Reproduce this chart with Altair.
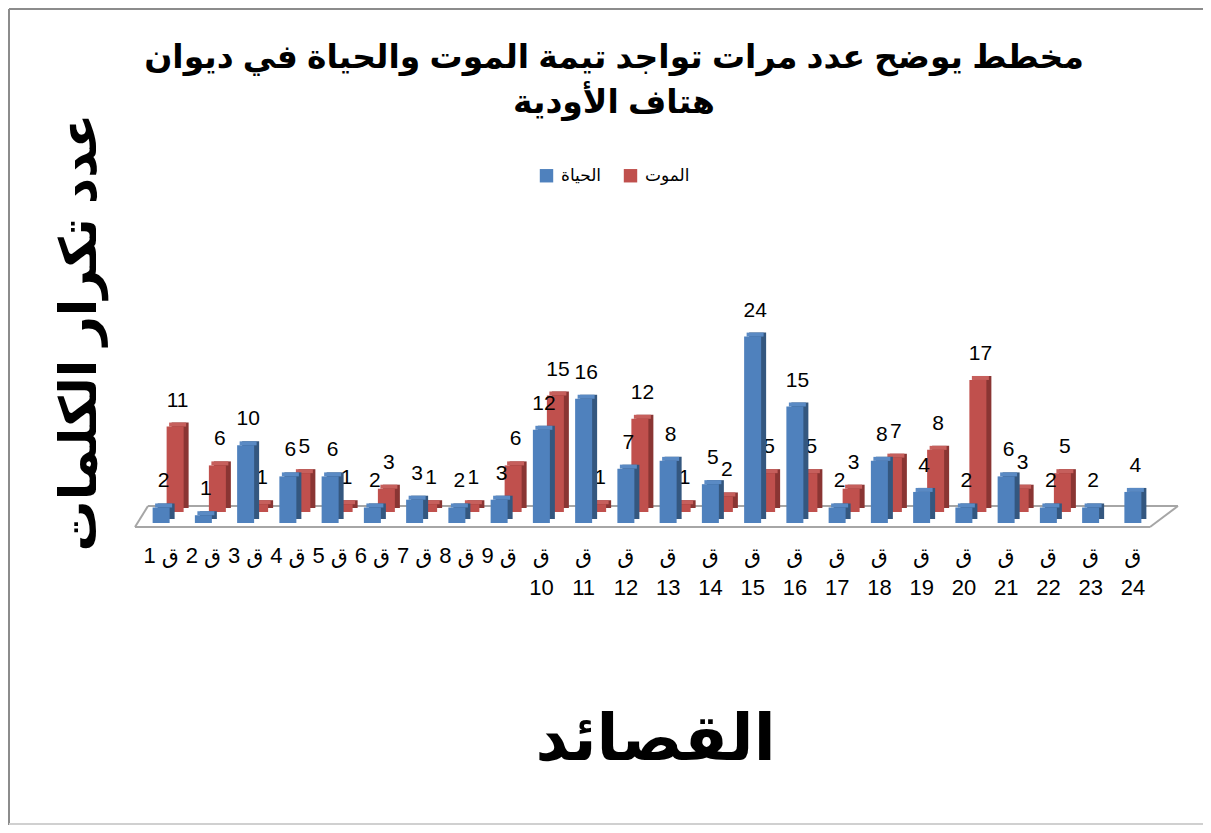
import altair as alt
import pandas as pd

# ---------------- data ----------------
poems = ["ق 1", "ق 2", "ق 3", "ق 4", "ق 5", "ق 6", "ق 7", "ق 8", "ق 9", "ق 10",
         "ق 11", "ق 12", "ق 13", "ق 14", "ق 15", "ق 16", "ق 17", "ق 18", "ق 19",
         "ق 20", "ق 21", "ق 22", "ق 23", "ق 24"]
life = [2, 1, 10, 6, 6, 2, 3, 2, 3, 12, 16, 7, 8, 5, 24, 15, 2, 8, 4, 2, 6, 2, 2, 4]
death = [11, 6, 1, 5, 1, 3, 1, 1, 6, 15, 1, 12, 1, 2, 5, 5, 3, 7, 8, 17, 3, 5, 0, 0]
series_names = ["الحياة", "الموت"]
title_lines = ["مخطط يوضح عدد مرات تواجد تيمة الموت والحياة في ديوان", "هتاف الأودية"]
x_title = "القصائد"
y_title = "عدد تكرار الكلمات"

rows = []
for p, l, d in zip(poems, life, death):
    rows.append({"poem": p, "series": series_names[0], "value": l})
    rows.append({"poem": p, "series": series_names[1], "value": d})
df = pd.DataFrame(rows)

# ---------------- layout ----------------
W, H, YMAX = 1014, 233, 30
PAD_L, PAD_T = 132, 282
PAD_R = 1195 - PAD_L - W
PAD_B = 817 - PAD_T - H
BW = 17          # bar face width
DX, DY = 5, 4    # 3D depth of a bar
FONT = "Liberation Sans, DejaVu Sans"

BLUE, BLUE_SIDE, BLUE_TOP = "#4F81BD", "#34577f", "#5a8ac4"
RED, RED_SIDE, RED_TOP = "#C0504D", "#8a3533", "#c65f5c"

yscale = alt.Scale(domain=[0, YMAX], nice=False, zero=True)
xscale = alt.Scale(paddingInner=0, paddingOuter=0)

x_axis = alt.Axis(
    title=x_title, labelAngle=0, domain=False, ticks=False, grid=False,
    labelPadding=22, labelFontSize=22, labelFont=FONT, labelColor="black",
    labelLineHeight=32, labelBaseline="top", labelOverlap=False, labelLimit=200,
    labelExpr="length(datum.label) > 3 ? split(datum.label, ' ') : datum.label",
    titleFont=FONT, titleFontSize=64, titleFontWeight="bold", titleColor="black",
    titleX=515, titleY=217, titleAlign="center", titleBaseline="middle",
)
y_axis = alt.Axis(
    title=y_title, labels=False, ticks=False, domain=False, grid=False,
    titleFont=FONT, titleFontSize=51, titleFontWeight="bold", titleColor="black",
    titleAngle=270, titleX=-60, titleY=42, titleAlign="center", titleBaseline="middle",
)


def xenc():
    return alt.X("poem:N", sort=poems, scale=xscale, axis=x_axis)


def yenc():
    return alt.Y("value:Q", scale=yscale, axis=y_axis)


def bar3d(series, ox, oy, front, side, top):
    base = alt.Chart(df).transform_filter(
        f"datum.series == '{series}' && datum.value > 0")
    depth = base.mark_bar(width=BW, xOffset=ox + DX, yOffset=oy - DY,
                          y2Offset=oy - DY, color=side).encode(
        x=xenc(), y=yenc(), y2=alt.datum(0))
    topf = base.mark_bar(width=BW, xOffset=ox + DX / 2, yOffset=oy - DY,
                         y2Offset=oy, color=top).encode(
        x=xenc(), y=yenc(), y2="value:Q")
    face = base.mark_bar(width=BW, xOffset=ox, yOffset=oy, y2Offset=oy).encode(
        x=xenc(), y=yenc(), y2=alt.datum(0),
        color=alt.Color(
            "series:N",
            scale=alt.Scale(domain=series_names, range=[BLUE, RED]),
            legend=alt.Legend(
                orient="none", legendX=398, legendY=-123, direction="horizontal",
                title=None, symbolType="square", symbolSize=180,
                symbolStrokeWidth=0, labelFontSize=17, labelFont=FONT,
                labelColor="black", columnPadding=20, labelOffset=6,
            ),
        ),
    )
    text = base.mark_text(fontSize=21, font=FONT, color="black", baseline="middle",
                          dx=ox + DX / 2, dy=oy - 26).encode(
        x=xenc(), y=yenc(), text="value:Q")
    return [depth, topf, face, text]


# ---------------- floor & frame (decoration) ----------------
one = alt.Data(values=[{"k": 1}])
FLOOR = "#a6a6a6"
FRAME = "#8c8c8c"


def rule(x1, x2, y1, y2, color, sw):
    return alt.Chart(one).mark_rule(color=color, strokeWidth=sw).encode(
        x=alt.value(x1), x2=alt.value(x2), y=alt.value(y1), y2=alt.value(y2))


floor = [
    rule(-5, W - 4, H + 4, H + 4, FLOOR, 2),
    rule(8, W + 24, H - 17, H - 17, FLOOR, 2),
    rule(-5, 8, H + 4, H - 17, FLOOR, 2),
    rule(W - 4, W + 24, H + 4, H - 17, FLOOR, 2),
]
frame = [
    rule(-PAD_L + 1, W + PAD_R + 10, -PAD_T + 1, -PAD_T + 1, FRAME, 2),
    rule(-PAD_L + 1, -PAD_L + 1, -PAD_T + 1, H + PAD_B, FRAME, 2),
    rule(-PAD_L + 1, W + PAD_R + 10, H + PAD_B - 1, H + PAD_B - 1, "#d0d0d0", 2),
]

layers = frame + floor
layers += bar3d(series_names[1], 14, -11, RED, RED_SIDE, RED_TOP)
layers += bar3d(series_names[0], 0, 0, BLUE, BLUE_SIDE, BLUE_TOP)

chart = alt.layer(*layers).properties(
    width=W, height=H,
    autosize=alt.AutoSizeParams(type="none"),
    padding={"left": PAD_L, "top": PAD_T, "right": PAD_R, "bottom": PAD_B},
    title=alt.TitleParams(
        text=title_lines, font=FONT, fontSize=33, fontWeight="bold", color="black",
        anchor="middle", frame="group", dx=-33, offset=-145, baseline="bottom",
        lineHeight=45,
    ),
).configure_view(stroke="transparent", strokeWidth=0)

chart.save("out.html", embed_options={"renderer": "svg", "actions": False})
